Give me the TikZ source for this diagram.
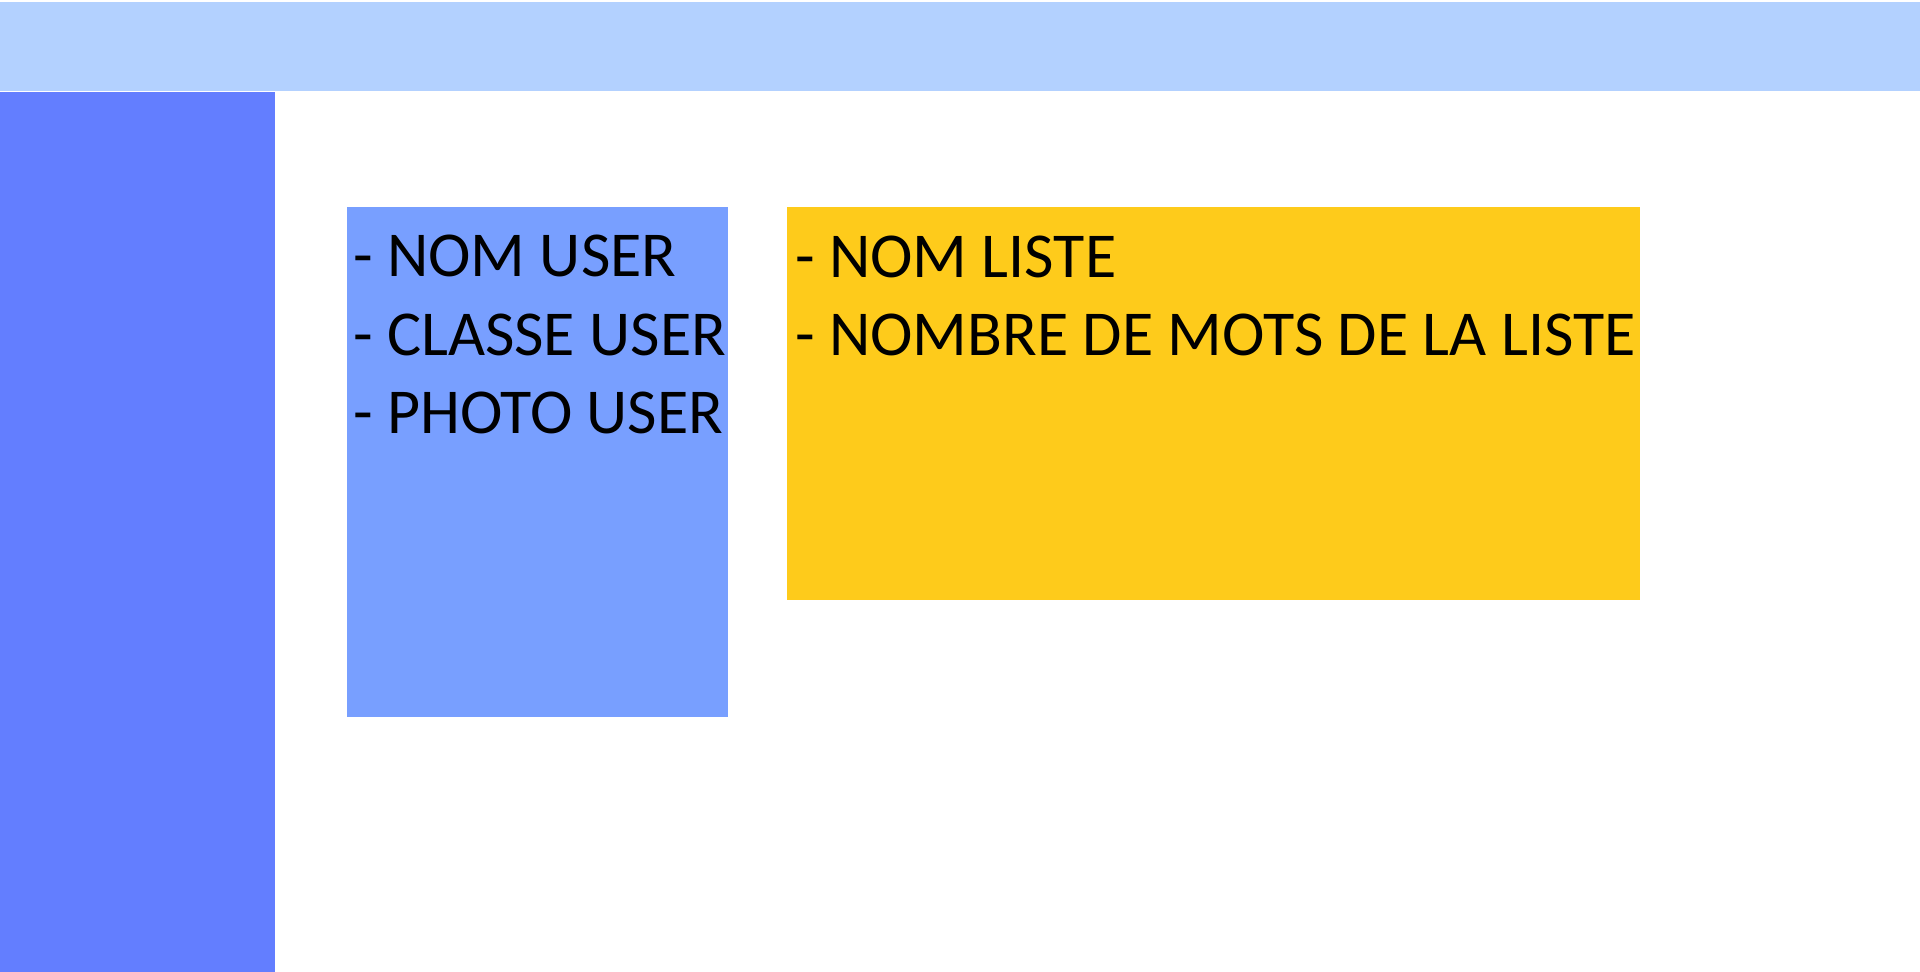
\documentclass[tikz,border=0pt]{standalone}
\usepackage{fontspec}
\setmainfont{Carlito}
\definecolor{topband}{HTML}{B3D1FF}
\definecolor{sidepanel}{HTML}{637EFF}
\definecolor{userbox}{HTML}{789FFF}
\definecolor{listbox}{HTML}{FECB1B}
\tikzset{
  area/.style={draw=none, inner sep=0pt, outer sep=0pt},
  itemtext/.style={anchor=base west, inner sep=0pt, outer sep=0pt, text=black,
    font=\fontsize{64}{78}\selectfont}
}
\begin{document}
\begin{tikzpicture}[x=1pt, y=-1pt]
\useasboundingbox (0,0) rectangle (1920,972);
\fill[white] (0,0) rectangle (1920,972);
\fill[topband] (0,2) rectangle (1920,91);
\fill[sidepanel] (0,92) rectangle (275,972);
\fill[userbox] (347,207) rectangle (728,717);
\fill[listbox] (787,207) rectangle (1640,600);
\node[itemtext] (u1) at (353,276) {- NOM USER};
\node[itemtext] (u2) at (353,355) {- CLASSE USER};
\node[itemtext] (u3) at (353,433) {- PHOTO USER};
\node[itemtext] (l1) at (795,277) {- NOM LISTE};
\node[itemtext] (l2) at (795,355) {- NOMBRE DE MOTS DE LA LISTE};
\end{tikzpicture}
\end{document}
